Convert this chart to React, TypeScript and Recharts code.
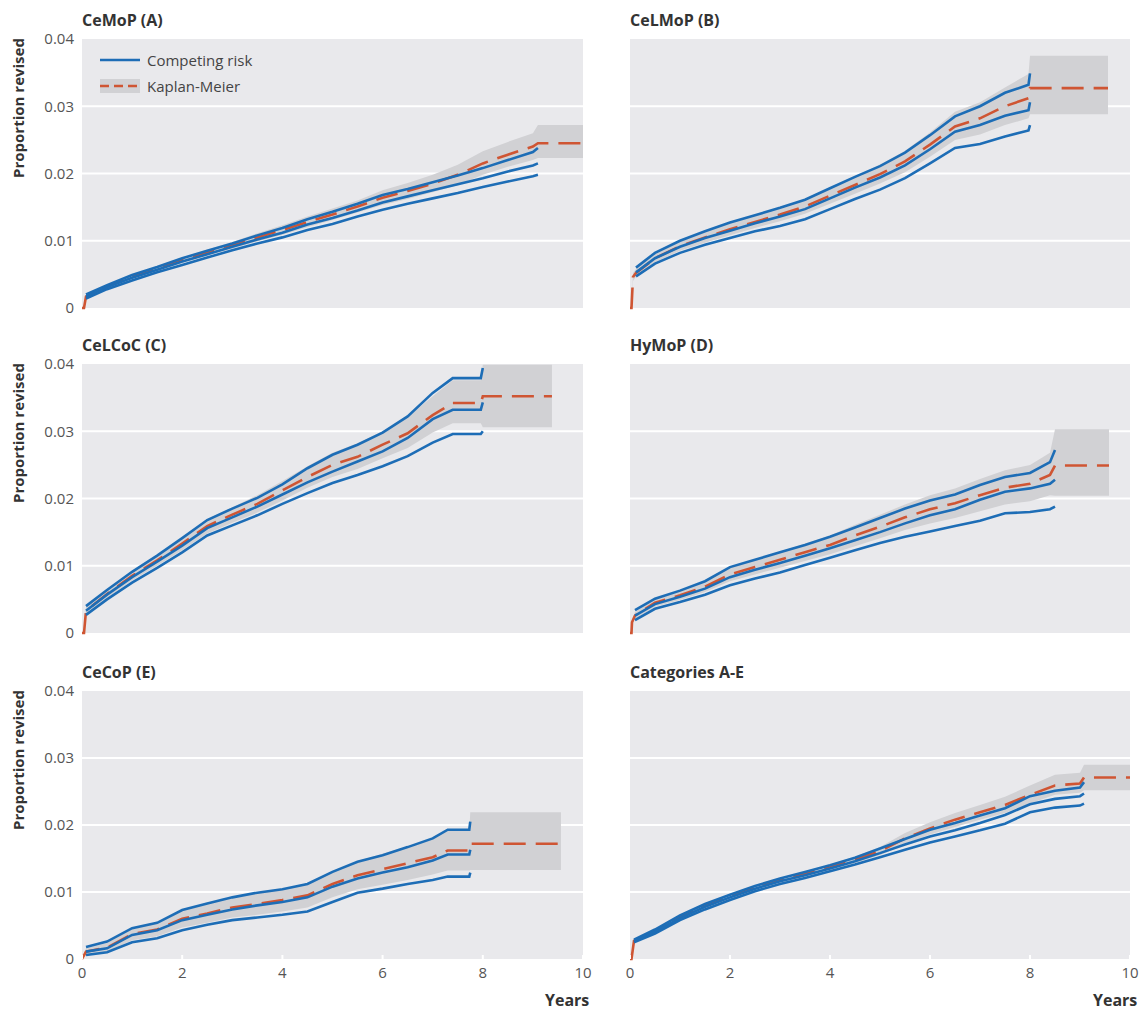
import { ComposedChart, Line, Area, XAxis, YAxis, CartesianGrid } from 'recharts'

// ---- CeMoP (A)
const aYears = [0, 0.04, 0.08, 0.5, 1, 1.5, 2, 2.5, 3, 3.5, 4, 4.5, 5, 5.5, 6, 6.5, 7, 7.5, 8, 8.5, 9, 9.1, 10]
const aCr   = [null, null, 0.0017, 0.0031, 0.0045, 0.0057, 0.0069, 0.0080, 0.0091, 0.0102, 0.0112, 0.0124, 0.0134, 0.0145, 0.0157, 0.0166, 0.0175, 0.0184, 0.0193, 0.0203, 0.0212, 0.0215, null]
const aCrLo = [null, null, 0.0014, 0.0028, 0.0041, 0.0053, 0.0064, 0.0075, 0.0086, 0.0096, 0.0105, 0.0116, 0.0125, 0.0136, 0.0146, 0.0155, 0.0163, 0.0171, 0.0180, 0.0188, 0.0196, 0.0198, null]
const aCrHi = [null, null, 0.0020, 0.0034, 0.0049, 0.0061, 0.0074, 0.0085, 0.0096, 0.0108, 0.0119, 0.0132, 0.0143, 0.0155, 0.0168, 0.0177, 0.0187, 0.0197, 0.0208, 0.0220, 0.0232, 0.0238, null]
const aKm   = [0, 0, 0.0017, 0.0032, 0.0046, 0.0058, 0.0071, 0.0082, 0.0093, 0.0105, 0.0116, 0.0128, 0.0139, 0.0151, 0.0164, 0.0174, 0.0185, 0.0198, 0.0215, 0.0228, 0.0240, 0.0245, 0.0245]
const aKmLo = [0, 0, 0.0015, 0.0029, 0.0043, 0.0055, 0.0067, 0.0078, 0.0088, 0.0099, 0.0109, 0.0120, 0.0131, 0.0142, 0.0153, 0.0162, 0.0172, 0.0183, 0.0198, 0.0210, 0.0220, 0.0223, 0.0223]
const aKmHi = [0, 0, 0.0019, 0.0035, 0.0049, 0.0062, 0.0075, 0.0087, 0.0098, 0.0111, 0.0123, 0.0136, 0.0148, 0.0160, 0.0175, 0.0186, 0.0198, 0.0213, 0.0233, 0.0247, 0.0260, 0.0272, 0.0272]

// ---- CeLMoP (B)
const bYears = [0, 0.03, 0.06, 0.12, 0.5, 1, 1.5, 2, 2.5, 3, 3.5, 4, 4.5, 5, 5.5, 6, 6.5, 7, 7.5, 7.97, 8, 9.56]
const bCr   = [null, null, null, 0.0053, 0.0074, 0.0091, 0.0104, 0.0115, 0.0126, 0.0136, 0.0147, 0.0163, 0.0179, 0.0194, 0.0212, 0.0236, 0.0262, 0.0272, 0.0286, 0.0294, 0.0306, null]
const bCrLo = [null, null, null, 0.0047, 0.0066, 0.0082, 0.0094, 0.0104, 0.0114, 0.0122, 0.0132, 0.0147, 0.0162, 0.0176, 0.0193, 0.0215, 0.0238, 0.0244, 0.0255, 0.0264, 0.0272, null]
const bCrHi = [null, null, null, 0.0060, 0.0082, 0.0100, 0.0114, 0.0127, 0.0138, 0.0149, 0.0161, 0.0178, 0.0195, 0.0211, 0.0231, 0.0257, 0.0285, 0.0300, 0.0320, 0.0332, 0.0349, null]
const bKm   = [0, 0, 0.0046, 0.0052, 0.0074, 0.0092, 0.0105, 0.0117, 0.0128, 0.0139, 0.0151, 0.0167, 0.0183, 0.0199, 0.0218, 0.0243, 0.0270, 0.0282, 0.0300, 0.0312, 0.0327, 0.0327]
const bKmLo = [0, 0, 0.0040, 0.0047, 0.0068, 0.0085, 0.0097, 0.0108, 0.0119, 0.0129, 0.0140, 0.0155, 0.0170, 0.0185, 0.0202, 0.0225, 0.0250, 0.0258, 0.0272, 0.0282, 0.0288, 0.0288]
const bKmHi = [0, 0, 0.0052, 0.0058, 0.0080, 0.0099, 0.0113, 0.0126, 0.0138, 0.0149, 0.0162, 0.0179, 0.0196, 0.0213, 0.0234, 0.0261, 0.0292, 0.0306, 0.0328, 0.0348, 0.0375, 0.0375]

// ---- CeLCoC (C)
const cYears = [0, 0.04, 0.08, 0.5, 1, 1.5, 2, 2.5, 3, 3.5, 4, 4.5, 5, 5.5, 6, 6.5, 7, 7.4, 7.96, 8, 9.38]
const cCr   = [null, null, 0.0033, 0.0057, 0.0083, 0.0106, 0.0130, 0.0156, 0.0172, 0.0188, 0.0206, 0.0224, 0.0240, 0.0255, 0.0270, 0.0290, 0.0318, 0.0332, 0.0332, 0.0343, null]
const cCrLo = [null, null, 0.0027, 0.0050, 0.0075, 0.0097, 0.0120, 0.0145, 0.0160, 0.0175, 0.0192, 0.0208, 0.0223, 0.0235, 0.0248, 0.0263, 0.0283, 0.0296, 0.0296, 0.0300, null]
const cCrHi = [null, null, 0.0040, 0.0064, 0.0091, 0.0115, 0.0141, 0.0168, 0.0185, 0.0201, 0.0221, 0.0245, 0.0265, 0.0280, 0.0298, 0.0322, 0.0357, 0.0379, 0.0379, 0.0394, null]
const cKm   = [0, 0, 0.0033, 0.0058, 0.0085, 0.0108, 0.0133, 0.0159, 0.0176, 0.0192, 0.0212, 0.0232, 0.0250, 0.0262, 0.0280, 0.0297, 0.0324, 0.0342, 0.0342, 0.0352, 0.0352]
const cKmLo = [0, 0, 0.0028, 0.0052, 0.0078, 0.0100, 0.0123, 0.0148, 0.0164, 0.0179, 0.0197, 0.0216, 0.0232, 0.0244, 0.0260, 0.0275, 0.0298, 0.0312, 0.0312, 0.0306, 0.0306]
const cKmHi = [0, 0, 0.0038, 0.0064, 0.0092, 0.0116, 0.0142, 0.0169, 0.0187, 0.0205, 0.0226, 0.0248, 0.0268, 0.0282, 0.0300, 0.0321, 0.0352, 0.0376, 0.0376, 0.0399, 0.0399]

// ---- HyMoP (D)
const dYears = [0, 0.03, 0.04, 0.1, 0.5, 1, 1.5, 2, 2.5, 3, 3.5, 4, 4.5, 5, 5.5, 6, 6.5, 7, 7.5, 8, 8.4, 8.5, 9.58]
const dCr   = [null, null, null, 0.0026, 0.0043, 0.0054, 0.0066, 0.0083, 0.0094, 0.0104, 0.0115, 0.0126, 0.0138, 0.0150, 0.0163, 0.0175, 0.0184, 0.0198, 0.0210, 0.0215, 0.0222, 0.0228, null]
const dCrLo = [null, null, null, 0.0019, 0.0036, 0.0046, 0.0057, 0.0071, 0.0081, 0.0090, 0.0101, 0.0112, 0.0123, 0.0134, 0.0143, 0.0151, 0.0159, 0.0167, 0.0178, 0.0180, 0.0184, 0.0188, null]
const dCrHi = [null, null, null, 0.0034, 0.0051, 0.0063, 0.0077, 0.0098, 0.0109, 0.0120, 0.0131, 0.0143, 0.0157, 0.0171, 0.0185, 0.0197, 0.0206, 0.0220, 0.0232, 0.0238, 0.0254, 0.0272, null]
const dKm   = [0, 0, 0.0016, 0.0026, 0.0045, 0.0056, 0.0069, 0.0087, 0.0098, 0.0109, 0.0120, 0.0131, 0.0145, 0.0158, 0.0172, 0.0184, 0.0193, 0.0205, 0.0216, 0.0222, 0.0235, 0.0249, 0.0249]
const dKmLo = [0, 0, 0.0012, 0.0021, 0.0039, 0.0049, 0.0061, 0.0077, 0.0087, 0.0097, 0.0107, 0.0117, 0.0129, 0.0141, 0.0153, 0.0163, 0.0171, 0.0181, 0.0191, 0.0196, 0.0205, 0.0204, 0.0204]
const dKmHi = [0, 0, 0.0020, 0.0031, 0.0051, 0.0063, 0.0077, 0.0097, 0.0109, 0.0121, 0.0133, 0.0145, 0.0161, 0.0176, 0.0191, 0.0205, 0.0215, 0.0229, 0.0242, 0.0250, 0.0268, 0.0303, 0.0303]

// ---- CeCoP (E)
const eYears = [0, 0.08, 0.5, 1, 1.5, 2, 2.5, 3, 3.5, 4, 4.5, 5, 5.5, 6, 6.5, 7, 7.3, 7.73, 7.75, 9.56]
const eCr   = [null, 0.0011, 0.0016, 0.0036, 0.0043, 0.0058, 0.0066, 0.0074, 0.0080, 0.0085, 0.0092, 0.0108, 0.0120, 0.0129, 0.0137, 0.0147, 0.0156, 0.0156, 0.0163, null]
const eCrLo = [null, 0.0006, 0.0010, 0.0025, 0.0031, 0.0043, 0.0051, 0.0058, 0.0062, 0.0066, 0.0071, 0.0085, 0.0099, 0.0105, 0.0112, 0.0118, 0.0123, 0.0123, 0.0129, null]
const eCrHi = [null, 0.0018, 0.0026, 0.0046, 0.0054, 0.0073, 0.0083, 0.0092, 0.0099, 0.0104, 0.0112, 0.0130, 0.0145, 0.0155, 0.0167, 0.0180, 0.0193, 0.0193, 0.0205, null]
const eKm   = [0, 0.0011, 0.0017, 0.0037, 0.0044, 0.0060, 0.0068, 0.0077, 0.0082, 0.0088, 0.0095, 0.0112, 0.0125, 0.0134, 0.0143, 0.0152, 0.0162, 0.0162, 0.0172, 0.0172]
const eKmLo = [0, 0.0006, 0.0011, 0.0028, 0.0034, 0.0047, 0.0054, 0.0062, 0.0066, 0.0071, 0.0077, 0.0092, 0.0104, 0.0111, 0.0118, 0.0126, 0.0132, 0.0132, 0.0133, 0.0133]
const eKmHi = [0, 0.0016, 0.0024, 0.0045, 0.0053, 0.0072, 0.0082, 0.0092, 0.0098, 0.0104, 0.0113, 0.0131, 0.0146, 0.0157, 0.0168, 0.0180, 0.0192, 0.0192, 0.0219, 0.0219]

// ---- Categories A-E
const fYears = [0, 0.03, 0.08, 0.5, 1, 1.5, 2, 2.5, 3, 3.5, 4, 4.5, 5, 5.5, 6, 6.5, 7, 7.5, 8, 8.5, 9, 9.08, 10]
const fCr   = [null, null, 0.0027, 0.0041, 0.0061, 0.0078, 0.0092, 0.0105, 0.0116, 0.0125, 0.0135, 0.0146, 0.0158, 0.0171, 0.0183, 0.0192, 0.0203, 0.0215, 0.0231, 0.0239, 0.0243, 0.0247, null]
const fCrLo = [null, null, 0.0025, 0.0038, 0.0058, 0.0074, 0.0088, 0.0101, 0.0112, 0.0121, 0.0131, 0.0141, 0.0152, 0.0163, 0.0174, 0.0183, 0.0192, 0.0202, 0.0219, 0.0226, 0.0229, 0.0232, null]
const fCrHi = [null, null, 0.0029, 0.0044, 0.0065, 0.0082, 0.0096, 0.0109, 0.0120, 0.0130, 0.0140, 0.0151, 0.0165, 0.0179, 0.0193, 0.0203, 0.0214, 0.0225, 0.0243, 0.0251, 0.0256, 0.0264, null]
const fKm   = [0, 0, 0.0027, 0.0041, 0.0062, 0.0079, 0.0093, 0.0106, 0.0117, 0.0127, 0.0137, 0.0148, 0.0161, 0.0180, 0.0195, 0.0208, 0.0219, 0.0230, 0.0245, 0.0259, 0.0262, 0.0271, 0.0271]
const fKmLo = [0, 0, 0.0025, 0.0038, 0.0058, 0.0075, 0.0089, 0.0102, 0.0113, 0.0123, 0.0132, 0.0143, 0.0155, 0.0172, 0.0186, 0.0197, 0.0208, 0.0218, 0.0232, 0.0245, 0.0248, 0.0252, 0.0252]
const fKmHi = [0, 0, 0.0029, 0.0044, 0.0066, 0.0083, 0.0097, 0.0110, 0.0121, 0.0131, 0.0141, 0.0153, 0.0167, 0.0188, 0.0204, 0.0218, 0.0230, 0.0242, 0.0259, 0.0275, 0.0278, 0.0290, 0.0290]

const yTicks = [0, 0.01, 0.02, 0.03, 0.04]
const xTicks = [0, 2, 4, 6, 8, 10]

const BLUE = '#1d6db6'
const RED = '#cf5533'
const BAND = '#d1d1d4'
const BG = '#e9e9ec'
const INK = '#333'
const FONT = "'Open Sans', 'DejaVu Sans', sans-serif"

type Num = number | null

function buildRows(t: number[], cr: Num[], lo: Num[], hi: Num[], km: Num[], kmLo: Num[], kmHi: Num[]) {
  return t.map((x, i) => ({
    t: x, cr: cr[i], crLo: lo[i], crHi: hi[i], km: km[i], band: [kmLo[i], kmHi[i]],
  }))
}

const fmtY = (v: number) => (v === 0 ? '0' : v.toFixed(2))

type PanelProps = {
  title: string
  rows: ReturnType<typeof buildRows>
  col: 0 | 1
  plotTop: number
  plotH: number
  last?: boolean
  legend?: boolean
}

const PAD = 12

function Panel({ title, rows, col, plotTop, plotH, last, legend }: PanelProps) {
  const left = col === 0 ? 0 : 600
  const width = col === 0 ? 600 : 541
  const margin = col === 0
    ? { top: PAD, right: 17, left: 22, bottom: last ? 0 : PAD }
    : { top: PAD, right: 11, left: 30, bottom: last ? 0 : PAD }
  const axisH = last ? 30 : 2
  const plotLeft = col === 0 ? 82 : 630
  const tickStyle = { fontSize: 15, fill: '#555' }

  return (
    <>
      <div style={{ position: 'absolute', left: plotLeft, top: plotTop - 29, fontWeight: 700, fontSize: 16, lineHeight: '20px', color: INK }}>
        {title}
      </div>
      {col === 0 && (
        <div style={{
          position: 'absolute', left: 18 - 100, top: plotTop + 69 - 10, width: 200, textAlign: 'center',
          transform: 'rotate(-90deg)', fontWeight: 700, fontSize: 15, lineHeight: '20px', color: INK,
        }}>
          Proportion revised
        </div>
      )}
      <div style={{ position: 'absolute', left, top: plotTop - PAD }}>
        <ComposedChart width={width} height={PAD + plotH + axisH + (last ? 0 : PAD)} data={rows} margin={margin}>
          <CartesianGrid
            vertical={false}
            horizontalValues={[0.01, 0.02, 0.03]}
            stroke="#fff"
            strokeWidth={2}
            fill={BG}
            fillOpacity={1}
          />
          <XAxis
            type="number"
            dataKey="t"
            domain={[0, 10]}
            ticks={xTicks}
            axisLine={false}
            tickLine={{ stroke: '#fff', strokeWidth: 2 }}
            tickSize={-4}
            tickMargin={12}
            tick={last ? tickStyle : false}
            height={axisH}
          />
          {col === 0 ? (
            <YAxis
              domain={[0, 0.04]}
              ticks={yTicks}
              tickFormatter={fmtY}
              axisLine={false}
              tickLine={false}
              width={60}
              tick={tickStyle}
            />
          ) : (
            <YAxis hide domain={[0, 0.04]} ticks={yTicks} />
          )}
          <Area type="linear" dataKey="band" stroke="none" fill={BAND} fillOpacity={1} isAnimationActive={false} />
          <Line type="linear" dataKey="km" stroke={RED} strokeWidth={2.6} strokeDasharray="22 10" dot={false} isAnimationActive={false} />
          <Line type="linear" dataKey="crLo" stroke={BLUE} strokeWidth={2.6} dot={false} isAnimationActive={false} />
          <Line type="linear" dataKey="crHi" stroke={BLUE} strokeWidth={2.6} dot={false} isAnimationActive={false} />
          <Line type="linear" dataKey="cr" stroke={BLUE} strokeWidth={2.6} dot={false} isAnimationActive={false} />
        </ComposedChart>
      </div>
      {last && (
        <div style={{ position: 'absolute', left: col === 0 ? 545 : 1093, top: 990, fontWeight: 700, fontSize: 16, lineHeight: '20px', color: INK }}>
          Years
        </div>
      )}
      {legend && (
        <div style={{ position: 'absolute', left: 100, top: plotTop + 8, fontSize: 15, color: '#444', lineHeight: '26px' }}>
          <div style={{ display: 'flex', alignItems: 'center' }}>
            <svg width={40} height={16} style={{ marginRight: 7 }}>
              <line x1={0} y1={8} x2={40} y2={8} stroke={BLUE} strokeWidth={2.6} />
            </svg>
            Competing risk
          </div>
          <div style={{ display: 'flex', alignItems: 'center' }}>
            <svg width={40} height={16} style={{ marginRight: 7 }}>
              <rect x={0} y={1} width={40} height={14} fill={BAND} />
              <line x1={0} y1={8} x2={40} y2={8} stroke={RED} strokeWidth={2.6} strokeDasharray="9 5" />
            </svg>
            Kaplan-Meier
          </div>
        </div>
      )}
    </>
  )
}

export default function App() {
  return (
    <div style={{ position: 'absolute', left: 0, top: 0, width: 1141, height: 1010, background: '#fff', fontFamily: FONT }}>
      <Panel title="CeMoP (A)" col={0} plotTop={39} plotH={269} legend
        rows={buildRows(aYears, aCr, aCrLo, aCrHi, aKm, aKmLo, aKmHi)} />
      <Panel title="CeLMoP (B)" col={1} plotTop={39} plotH={269}
        rows={buildRows(bYears, bCr, bCrLo, bCrHi, bKm, bKmLo, bKmHi)} />
      <Panel title="CeLCoC (C)" col={0} plotTop={364} plotH={269}
        rows={buildRows(cYears, cCr, cCrLo, cCrHi, cKm, cKmLo, cKmHi)} />
      <Panel title="HyMoP (D)" col={1} plotTop={364} plotH={269}
        rows={buildRows(dYears, dCr, dCrLo, dCrHi, dKm, dKmLo, dKmHi)} />
      <Panel title="CeCoP (E)" col={0} plotTop={691} plotH={268} last
        rows={buildRows(eYears, eCr, eCrLo, eCrHi, eKm, eKmLo, eKmHi)} />
      <Panel title="Categories A-E" col={1} plotTop={691} plotH={268} last
        rows={buildRows(fYears, fCr, fCrLo, fCrHi, fKm, fKmLo, fKmHi)} />
    </div>
  )
}
